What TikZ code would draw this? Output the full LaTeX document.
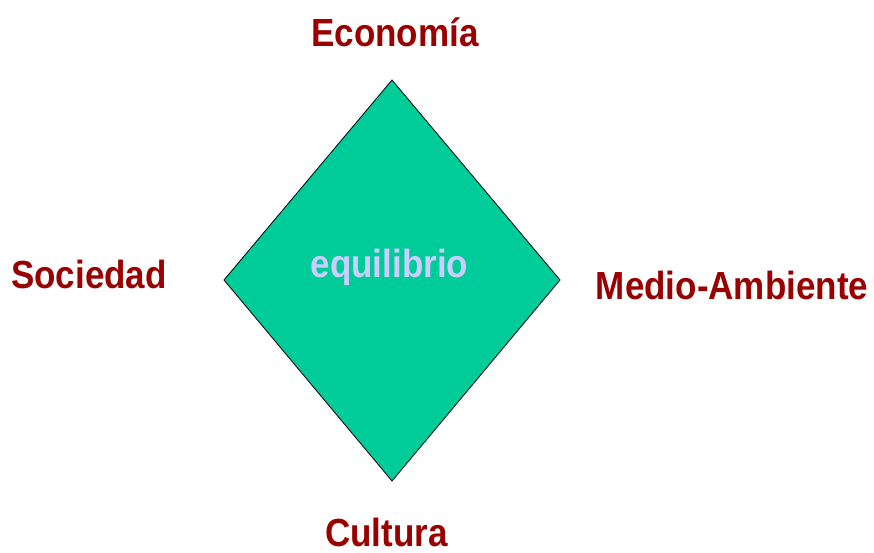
\documentclass[tikz,border=0pt]{standalone}
\usepackage{fontspec}
\usepackage{graphicx}
\setmainfont{Liberation Sans}
\definecolor{darkred}{HTML}{990000}
\definecolor{diagreen}{HTML}{00CC99}
\definecolor{lav}{HTML}{CCCCFF}
\newcommand{\tallt}[1]{\scalebox{1}[1.12]{#1}}
\begin{document}
\begin{tikzpicture}[x=1pt,y=-1pt,
  lbl/.style={font=\fontsize{35}{40}\selectfont\bfseries, text=darkred, inner sep=0pt, anchor=base},
  mid/.style={font=\fontsize{35}{40}\selectfont\bfseries, text=lav, inner sep=0pt, anchor=base}]
\useasboundingbox (0,0) rectangle (874,552);
\coordinate (T) at (392,80);
\coordinate (L) at (224,280);
\coordinate (R) at (560,280);
\coordinate (B) at (392,481);
\filldraw[fill=diagreen, draw=black, line width=0.8pt] (T) -- (R) -- (B) -- (L) -- cycle;
\node[mid] (eq) at (389.5,277) {\tallt{equilibrio}};
\node[lbl] (eco) at (395,46) {\tallt{Economía}};
\node[lbl] (soc) at (89,288) {\tallt{Sociedad}};
\node[lbl] (med) at (732,299) {\tallt{Medio-Ambiente}};
\node[lbl, text depth=0pt] (cul) at (386.5,546) {\tallt{Cultura}};
\end{tikzpicture}
\end{document}
